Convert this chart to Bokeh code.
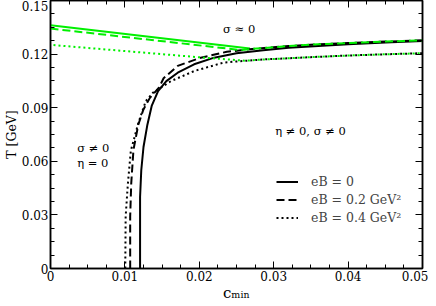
import numpy as np
from bokeh.plotting import figure
from bokeh.models import (FixedTicker, LinearAxis, Label, Legend, LegendItem, Range1d)
from bokeh.embed import file_html
from bokeh.resources import INLINE

# ---- data ----
x_ticks = [0, 0.01, 0.02, 0.03, 0.04, 0.05]
x_tick_labels = ["0", "0.01", "0.02", "0.03", "0.04", "0.05"]
y_ticks = [0, 0.03, 0.06, 0.09, 0.12, 0.15]
y_tick_labels = ["0", "0.03", "0.06", "0.09", "0.12", "0.15"]

c_eb0 = [0.01204, 0.01204, 0.0122, 0.0125, 0.0130, 0.0136, 0.01446, 0.01557, 0.0171,
         0.0193, 0.022, 0.025, 0.0286, 0.032, 0.036, 0.040, 0.045, 0.050]
T_eb0 = [0.0, 0.040, 0.055, 0.068, 0.080, 0.091, 0.0993, 0.1049, 0.1096,
         0.1143, 0.118, 0.1205, 0.1222, 0.1235, 0.1246, 0.1255, 0.1265, 0.1273]

c_eb02 = [0.01071, 0.01071, 0.01085, 0.01115, 0.0118, 0.01248, 0.01336, 0.0146, 0.0152,
          0.0171, 0.0202, 0.0237, 0.0277, 0.032, 0.036, 0.040, 0.045, 0.050]
T_eb02 = [0.0, 0.029, 0.0475, 0.0664, 0.0805, 0.0889, 0.0955, 0.1013, 0.1065,
          0.1134, 0.118, 0.1213, 0.1231, 0.1245, 0.1255, 0.1262, 0.127, 0.1277]

c_eb04 = [0.01005, 0.0101, 0.0104, 0.0108, 0.01138, 0.0118, 0.01226, 0.0128, 0.0138,
          0.0162, 0.0193, 0.0233, 0.0286, 0.035, 0.040, 0.045, 0.050]
T_eb04 = [0.0, 0.029, 0.0475, 0.066, 0.0748, 0.0814, 0.087, 0.0936, 0.0985,
          0.1049, 0.1105, 0.1153, 0.117, 0.1183, 0.1192, 0.1199, 0.1205]

cg_eb0 = [0.0, 0.0268]
Tg_eb0 = [0.1362, 0.1232]
cg_eb02 = [0.0, 0.0255, 0.0277, 0.032, 0.036, 0.040, 0.045, 0.050]
Tg_eb02 = [0.1343, 0.1223, 0.1231, 0.1245, 0.1255, 0.1262, 0.127, 0.1277]
cg_eb04 = [0.0, 0.0206, 0.0262, 0.0286, 0.035, 0.040, 0.045, 0.050]
Tg_eb04 = [0.1252, 0.118, 0.1163, 0.117, 0.1183, 0.1192, 0.1199, 0.1205]

legend_labels = ["eB = 0", "eB = 0.2 GeV\u00b2", "eB = 0.4 GeV\u00b2"]
x_label = "c\u2098\u1d62\u2099"
y_label = "T [GeV]"

FONT = "DejaVu Serif"
GREEN = "#00f000"

FW, FH = 372, 268
p = figure(frame_width=FW, frame_height=FH,
           x_range=Range1d(0, 0.05), y_range=Range1d(0, 0.15),
           output_backend="svg", toolbar_location=None,
           min_border_left=0, min_border_right=6, min_border_top=0, min_border_bottom=0)
p.grid.visible = False
p.outline_line_color = "black"
p.outline_line_width = 1.5

xt = FixedTicker(ticks=x_ticks, minor_ticks=list(np.linspace(0, 0.05, 21)))
yt = FixedTicker(ticks=y_ticks, minor_ticks=list(np.linspace(0, 0.15, 21)))

def style(ax, labels=True):
    ax.axis_line_width = 1.5
    ax.major_tick_in = 7
    ax.major_tick_out = 0
    ax.minor_tick_in = 4
    ax.minor_tick_out = 0
    ax.major_label_text_font = FONT
    ax.major_label_text_font_size = "12px" if labels else "0px"
    ax.major_label_text_color = "black"
    ax.major_label_standoff = 2 if labels else 0
    ax.axis_label_text_font = FONT
    ax.axis_label_text_font_style = "normal"
    ax.axis_label_text_color = "black"
    ax.axis_label_standoff = 0

p.xaxis.ticker = xt
p.yaxis.ticker = yt
p.xaxis.major_label_overrides = dict(zip(x_ticks, x_tick_labels))
p.yaxis.major_label_overrides = dict(zip(y_ticks, y_tick_labels))
style(p.xaxis[0])
style(p.yaxis[0])
p.yaxis.axis_label = y_label
p.yaxis.axis_label_text_font_size = "12.5px"
p.xaxis.axis_label = x_label
p.xaxis.axis_label_text_font_size = "15px"

top = LinearAxis(ticker=xt)
right = LinearAxis(ticker=yt)
style(top, False)
style(right, False)
top.major_label_overrides = {t: "" for t in x_ticks}
right.major_label_overrides = {t: "" for t in y_ticks}
p.add_layout(top, "above")
p.add_layout(right, "right")

p.line(cg_eb0, Tg_eb0, line_color=GREEN, line_width=2)
r0 = p.line(c_eb0, T_eb0, line_color="black", line_width=2)
r1 = p.line(c_eb02, T_eb02, line_color="black", line_width=2, line_dash="8 4")
r2 = p.line(c_eb04, T_eb04, line_color="black", line_width=2, line_dash="2 3")
p.line(cg_eb02, Tg_eb02, line_color=GREEN, line_width=2, line_dash="8 4")
p.line(cg_eb04, Tg_eb04, line_color=GREEN, line_width=2, line_dash="2 3", line_dash_offset=2)

legend = Legend(items=[LegendItem(label=legend_labels[0], renderers=[r0]),
                       LegendItem(label=legend_labels[1], renderers=[r1]),
                       LegendItem(label=legend_labels[2], renderers=[r2])],
                location=(226, 42), padding=0, margin=0, spacing=1,
                glyph_width=22, glyph_height=17, label_height=17, label_standoff=13,
                border_line_alpha=0, background_fill_alpha=0,
                label_text_font=FONT, label_text_font_size="12.5px")
p.add_layout(legend, "center")

def txt(x, y, s, size="11.5px"):
    p.add_layout(Label(x=x, y=y, text=s, text_font=FONT, text_font_size=size,
                       text_baseline="middle", text_align="left", text_color="black"))

txt(0.0232, 0.1342, "\u03c3 \u2248 0")
txt(0.0302, 0.0767, "\u03b7 \u2260 0, \u03c3 \u2260 0")
txt(0.0036, 0.0673, "\u03c3 \u2260 0")
txt(0.0036, 0.0588, "\u03b7 = 0")

open("out.html", "w").write(file_html(p, INLINE))
